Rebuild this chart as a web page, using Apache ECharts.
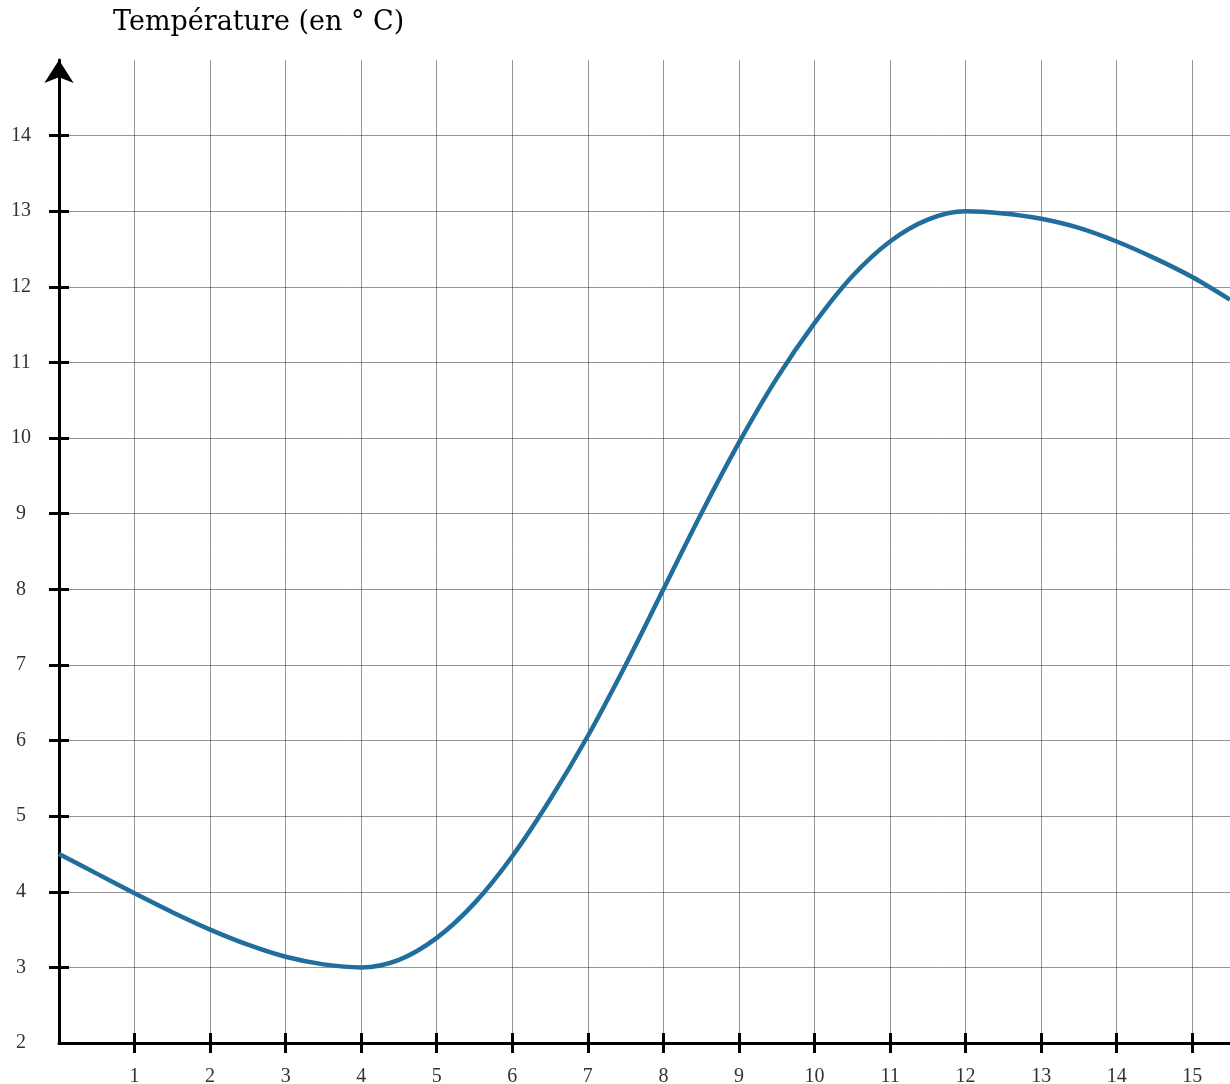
<!DOCTYPE html>
<html>
<head>
<meta charset="utf-8">
<script src="https://cdn.jsdelivr.net/npm/echarts@6/dist/echarts.min.js"></script>
<style>html,body{margin:0;padding:0;background:#fff;overflow:hidden}#c{width:1230px;height:1084px}</style>
</head>
<body>
<div id="c"></div>
<script>
const titleText = 'Température (en ° C)';
const hours = [0,0.5,1,1.5,2,2.5,3,3.5,4,4.5,5,5.5,6,6.5,7,7.5,8,8.5,9,9.5,10,10.5,11,11.5,12,12.5,13,13.5,14,14.5,15,15.5];
const temps = [4.5,4.24,3.98,3.73,3.5,3.3,3.14,3.04,3.0,3.1,3.39,3.85,4.47,5.22,6.06,7.0,8.0,9.0,9.94,10.79,11.52,12.14,12.6,12.89,13.0,12.97,12.9,12.78,12.6,12.38,12.13,11.83];
const xTicks = [1,2,3,4,5,6,7,8,9,10,11,12,13,14,15];
const yTicks = [3,4,5,6,7,8,9,10,11,12,13,14];
const yLabels = [2,3,4,5,6,7,8,9,10,11,12,13,14];

const font = 'Liberation Serif';
const chart = echarts.init(document.getElementById('c'), null, {renderer:'canvas'});
const axisLineStyle = {color:'#000', width:3};
const tickStyle = {color:'#000', width:3};
const gridStyle = {color:'rgba(0,0,0,0.42)', width:1};
chart.setOption({
  animation:false,
  backgroundColor:'#fff',
  title:{text:titleText, left:108, top:4, textStyle:{fontFamily:'DejaVu Serif', fontSize:27, fontWeight:'normal', color:'#000'}},
  grid:{left:59, right:0, top:60, bottom:41, containLabel:false, outerBoundsMode:'none'},
  xAxis:[
    {type:'value', min:0, max:15.5, interval:1, position:'bottom',
     axisLine:{show:true, onZero:false, lineStyle:axisLineStyle},
     axisTick:{show:true, inside:false, length:10, lineStyle:tickStyle, customValues:xTicks},
     axisLabel:{margin:24, fontFamily:font, fontSize:20, color:'#333', customValues:xTicks},
     splitLine:{show:true, lineStyle:gridStyle}},
    {type:'value', min:0, max:15.5, interval:1, position:'bottom',
     axisLine:{show:false}, axisTick:{show:true, inside:true, length:10, lineStyle:tickStyle, customValues:xTicks},
     axisLabel:{show:false}, splitLine:{show:false}}
  ],
  yAxis:[
    {type:'value', min:2, max:15, interval:1, position:'left',
     axisLine:{show:true, onZero:false, lineStyle:axisLineStyle, symbol:['none','arrow'], symbolSize:[22,23], symbolOffset:[0,0]},
     axisTick:{show:true, inside:false, length:10, lineStyle:tickStyle, customValues:yTicks},
     axisLabel:{margin:38, align:'center', verticalAlign:'middle', padding:[0,0,12,0], fontFamily:font, fontSize:20, color:'#333', customValues:yLabels},
     splitLine:{show:true, lineStyle:gridStyle}},
    {type:'value', min:2, max:15, interval:1, position:'left',
     axisLine:{show:false}, axisTick:{show:true, inside:true, length:10, lineStyle:tickStyle, customValues:yTicks},
     axisLabel:{show:false}, splitLine:{show:false}}
  ],
  series:[{
    type:'line', xAxisIndex:0, yAxisIndex:0, smooth:0.33, showSymbol:false, clip:true,
    lineStyle:{color:'#216e9c', width:4.5},
    data:hours.map((h,i)=>[h,temps[i]])
  }]
});
</script>
</body>
</html>
